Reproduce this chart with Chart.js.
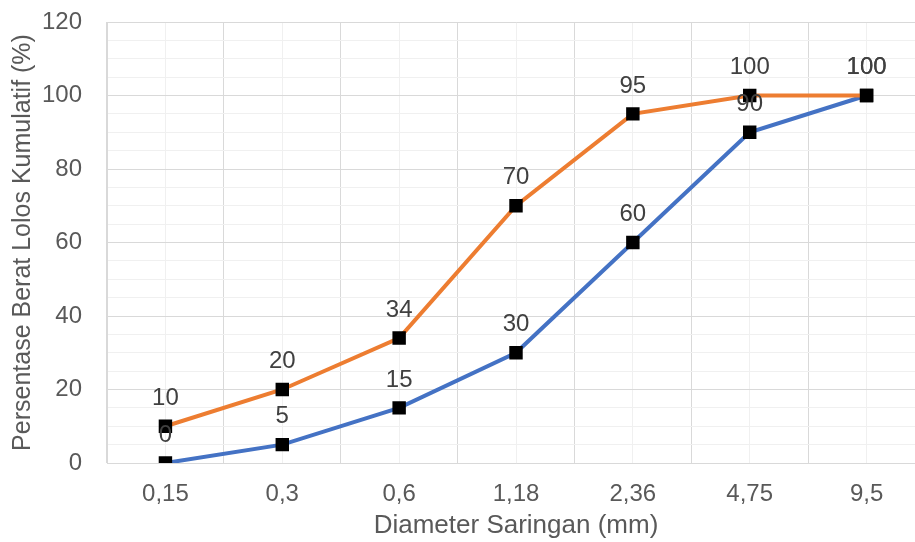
<!DOCTYPE html>
<html>
<head>
<meta charset="utf-8">
<script src="https://cdn.jsdelivr.net/npm/chart.js@4/dist/chart.umd.min.js"></script>
<style>
  html, body { margin: 0; padding: 0; background: #ffffff; overflow: hidden; }
  #wrap { position: relative; width: 935px; height: 542px; }
</style>
</head>
<body>
<div id="wrap"><canvas id="c"></canvas></div>
<script>
// Sieve sizes (mm) and cumulative passing percentages
const sieveSizes = ['0,15', '0,3', '0,6', '1,18', '2,36', '4,75', '9,5'];
const lowerLimit = [0, 5, 15, 30, 60, 90, 100];
const upperLimit = [10, 20, 34, 70, 95, 100, 100];
const yTickValues = [0, 20, 40, 60, 80, 100, 120];

const FONT = "'Liberation Sans', Arial, sans-serif";
const MAJOR = '#d9d9d9';
const MINOR = '#f0f0f0';

// Draws each point's value above its marker
const valueLabels = {
  id: 'valueLabels',
  afterDatasetsDraw(chart) {
    const ctx = chart.ctx;
    ctx.save();
    ctx.font = '24px ' + FONT;
    ctx.fillStyle = '#404040';
    ctx.textAlign = 'center';
    ctx.textBaseline = 'middle';
    chart.data.datasets.forEach((ds, i) => {
      const meta = chart.getDatasetMeta(i);
      meta.data.forEach((pt, j) => {
        ctx.fillText(String(ds.data[j]), pt.x, pt.y - 28);
      });
    });
    ctx.restore();
  }
};

const pointStyleOpts = {
  pointStyle: 'rect',
  pointRadius: 9.5,
  pointHoverRadius: 9.5,
  pointBackgroundColor: '#000000',
  pointBorderWidth: 0,
  borderWidth: 4,
  tension: 0,
  fill: false
};

new Chart(document.getElementById('c'), {
  type: 'line',
  data: {
    labels: sieveSizes,
    datasets: [
      Object.assign({ label: 'Batas Atas', data: upperLimit, borderColor: '#ED7D31' }, pointStyleOpts),
      Object.assign({ label: 'Batas Bawah', data: lowerLimit, borderColor: '#4472C4' }, pointStyleOpts)
    ]
  },
  options: {
    responsive: true,
    maintainAspectRatio: false,
    animation: false,
    layout: { padding: { top: 22, right: 10, left: 0, bottom: 0 } },
    plugins: { legend: { display: false }, tooltip: { enabled: false } },
    scales: {
      x: {
        type: 'category',
        offset: true,
        grid: { offset: true, color: MAJOR, lineWidth: 1, drawTicks: false },
        border: { color: MAJOR, width: 1 },
        ticks: { color: '#595959', font: { family: FONT, size: 24 }, padding: 17, maxRotation: 0 },
        title: {
          display: true,
          text: 'Diameter Saringan (mm)',
          color: '#595959',
          font: { family: FONT, size: 26 },
          padding: { top: 0, bottom: 1 }
        },
        afterFit(scale) { scale.height = 79; scale.paddingTop = 0; }
      },
      xMinor: {
        type: 'category',
        position: 'bottom',
        offset: true,
        grid: { offset: false, color: MINOR, lineWidth: 1, drawTicks: false },
        border: { display: false },
        ticks: { display: false },
        afterFit(scale) { scale.height = 0; scale.paddingTop = 0; }
      },
      y: {
        min: 0,
        max: 120,
        grid: {
          color: (c) => (yTickValues.includes(c.tick.value) ? MAJOR : MINOR),
          lineWidth: 1,
          drawTicks: false
        },
        border: { color: MAJOR, width: 1 },
        ticks: {
          stepSize: 5,
          autoSkip: false,
          color: '#595959',
          font: { family: FONT, size: 24 },
          padding: 25,
          callback: (v) => (yTickValues.includes(v) ? String(v) : '')
        },
        title: {
          display: true,
          text: 'Persentase Berat Lolos Kumulatif (%)',
          color: '#595959',
          font: { family: FONT, size: 25 },
          padding: { top: 8, bottom: 0 }
        },
        afterFit(scale) { scale.width = 107; scale.paddingTop = 0; scale.paddingBottom = 0; }
      }
    }
  },
  plugins: [valueLabels]
});
</script>
</body>
</html>
